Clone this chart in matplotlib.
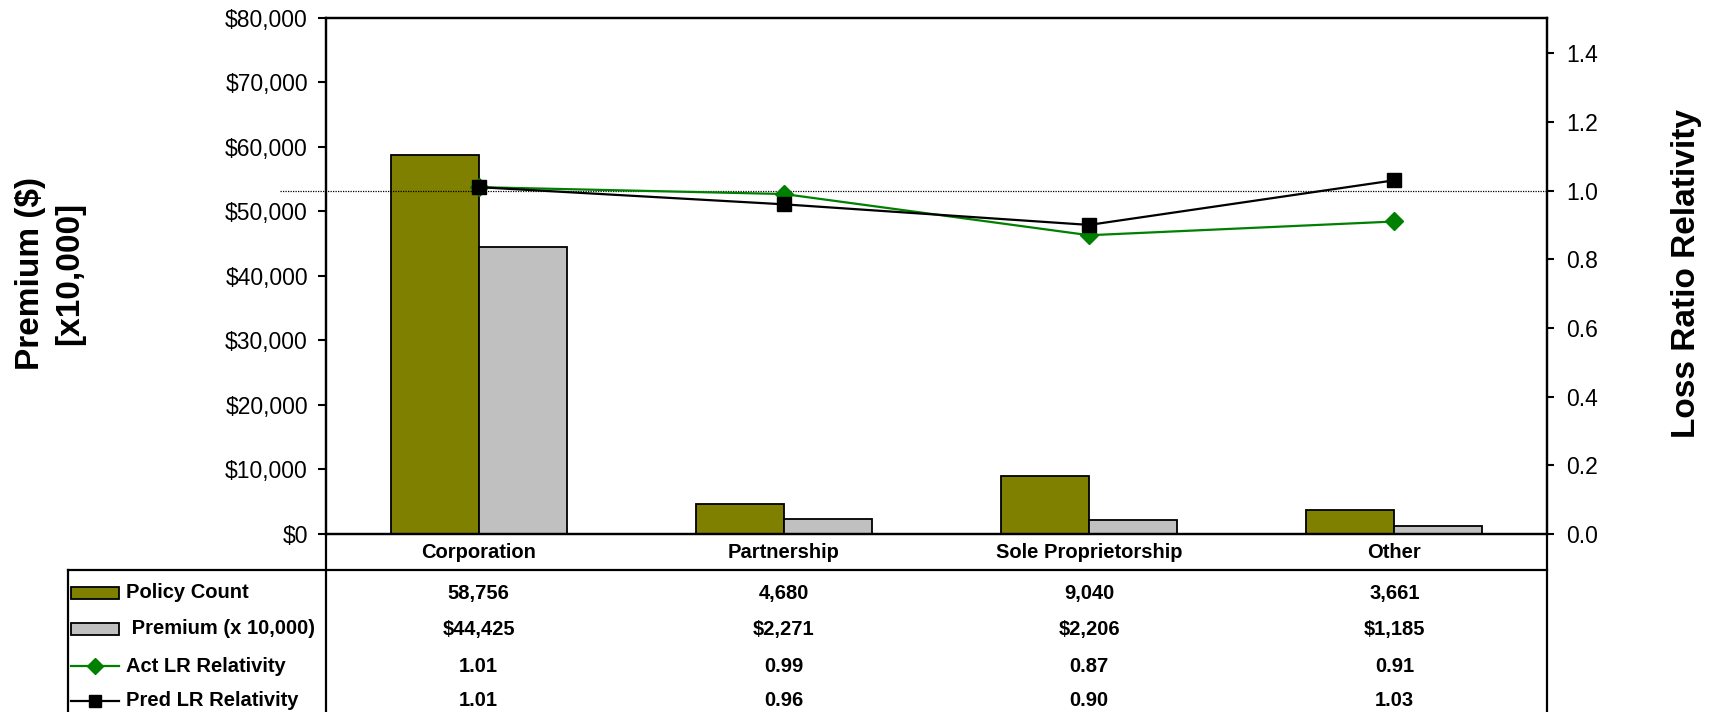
import matplotlib
matplotlib.use("Agg")
import matplotlib.pyplot as plt
import numpy as np
from matplotlib import font_manager as fm
from matplotlib.transforms import blended_transform_factory
from matplotlib.patches import Rectangle
from matplotlib.lines import Line2D

# ---- data ----
categories = ["Corporation", "Partnership", "Sole Proprietorship", "Other"]
policy_count = [58756, 4680, 9040, 3661]
premium = [44425, 2271, 2206, 1185]          # x 10,000
act_lr = [1.01, 0.99, 0.87, 0.91]
pred_lr = [1.01, 0.96, 0.90, 1.03]
row_labels = ["Policy Count", " Premium (x 10,000)", "Act LR Relativity", "Pred LR Relativity"]
left_ticks = [0, 10000, 20000, 30000, 40000, 50000, 60000, 70000, 80000]
right_ticks = [0.0, 0.2, 0.4, 0.6, 0.8, 1.0, 1.2, 1.4]

OLIVE = "#808000"
GRAY = "#C0C0C0"
GREEN = "#008000"

W, H = 1723, 712
names = {f.name for f in fm.fontManager.ttflist}
base = "Liberation Sans" if "Liberation Sans" in names else "DejaVu Sans"
if "Liberation Sans Narrow" in names:
    tfam, tsize = "Liberation Sans Narrow", 17
else:
    tfam, tsize = base, 14.5
plt.rcParams["font.family"] = [base, "DejaVu Sans"]

fig = plt.figure(figsize=(W / 100, H / 100), dpi=100)
L, R, T, B = 326, 1547, 17.5, 534
ax = fig.add_axes([L / W, 1 - B / H, (R - L) / W, (B - T) / H])
ax2 = ax.twinx()

x = np.arange(len(categories))
bw = 0.288
ax.bar(x - bw / 2, policy_count, bw, color=OLIVE, edgecolor="black", linewidth=1.3, zorder=2)
ax.bar(x + bw / 2, premium, bw, color=GRAY, edgecolor="black", linewidth=1.3, zorder=2)
ax.set_xlim(-0.5, len(categories) - 0.5)
ax.set_ylim(0, 80000)
ax.set_yticks(left_ticks)
ax.set_yticklabels(["${:,.0f}".format(v) for v in left_ticks])
ax.set_xticks([])

ax2.set_ylim(0, 1.504)
ax2.set_yticks(right_ticks)
ax2.set_yticklabels(["{:.1f}".format(v) for v in right_ticks])
ax2.axhline(1.0, xmin=-0.038, xmax=1, color="black", linestyle=(0, (1, 1)), linewidth=0.9, clip_on=False, zorder=1)
ax2.plot(x, act_lr, color=GREEN, linewidth=1.6, marker="D", markersize=9.5, zorder=3)
ax2.plot(x, pred_lr, color="black", linewidth=1.6, marker="s", markersize=9.5, zorder=4)

for a in (ax, ax2):
    for s in a.spines.values():
        s.set_linewidth(1.6)
ax.tick_params(axis="y", direction="out", length=6, width=1.5, pad=7, labelsize=16.5)
ax2.tick_params(axis="y", direction="out", length=5, width=1.5, pad=9, labelsize=16.5)

# axis titles
fig.text(50 / W, 1 - 273 / H, "Premium ($)\n[x10,000]", rotation=90, ha="center", va="center",
         multialignment="center", fontsize=24, fontweight="bold", linespacing=1.35)
fig.text(1686 / W, 1 - 273 / H, "Loss Ratio Relativity", rotation=90, ha="center", va="center",
         fontsize=24, fontweight="bold")

# ---- data table ----
def fy(py):
    return 1 - py / H

bt = blended_transform_factory(ax.transData, fig.transFigure)
lw = 1.6
fig.add_artist(Line2D([68 / W, R / W], [fy(570), fy(570)], color="black", linewidth=lw))
fig.add_artist(Line2D([68 / W, 68 / W], [fy(570), 0], color="black", linewidth=lw))
fig.add_artist(Line2D([L / W, L / W], [fy(B), 0], color="black", linewidth=lw))
fig.add_artist(Line2D([R / W, R / W], [fy(B), 0], color="black", linewidth=lw))

for i, c in enumerate(categories):
    fig.text(i, fy(553), c, transform=bt, fontsize=tsize, fontweight="bold", family=tfam,
             ha="center", va="center")

row_y = [593, 629, 666, 701]
row_vals = [
    ["{:,}".format(v) for v in policy_count],
    ["${:,}".format(v) for v in premium],
    ["{:.2f}".format(v) for v in act_lr],
    ["{:.2f}".format(v) for v in pred_lr],
]
for ry, lab, vals in zip(row_y, row_labels, row_vals):
    fig.text(126 / W, fy(ry), lab, fontsize=tsize, fontweight="bold", family=tfam, ha="left", va="center")
    for i, v in enumerate(vals):
        fig.text(i, fy(ry), v, transform=bt, fontsize=tsize, fontweight="bold", family=tfam,
                 ha="center", va="center")

# legend keys
kx0, kx1 = 71, 119
for ry, col in zip(row_y[:2], [OLIVE, GRAY]):
    fig.add_artist(Rectangle((kx0 / W, fy(ry + 6)), (kx1 - kx0) / W, 12 / H,
                             facecolor=col, edgecolor="black", linewidth=1.3, transform=fig.transFigure))
fig.add_artist(Line2D([kx0 / W, kx1 / W], [fy(row_y[2])] * 2, color=GREEN, linewidth=1.6))
fig.add_artist(Line2D([(kx0 + kx1) / 2 / W], [fy(row_y[2])], color=GREEN, marker="D", markersize=8))
fig.add_artist(Line2D([kx0 / W, kx1 / W], [fy(row_y[3])] * 2, color="black", linewidth=1.6))
fig.add_artist(Line2D([(kx0 + kx1) / 2 / W], [fy(row_y[3])], color="black", marker="s", markersize=9))

fig.savefig("out.png", dpi=100)
